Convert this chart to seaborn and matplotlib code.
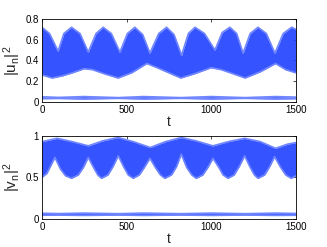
import numpy as np
import pandas as pd
import matplotlib
matplotlib.use("Agg")
import matplotlib.pyplot as plt
import seaborn as sns

# ---- data (envelopes of dense oscillations) ----
u_t_up = [0, 45, 96, 130, 175, 225, 274, 320, 362, 410, 461, 505, 549, 595, 638, 690,
          736, 780, 825, 865, 904, 960, 1022, 1065, 1110, 1150, 1188, 1230, 1276, 1325,
          1376, 1425, 1475, 1500]
u_upper = [0.72, 0.66, 0.49, 0.66, 0.72, 0.66, 0.48, 0.66, 0.72, 0.66, 0.48, 0.66, 0.72,
           0.65, 0.47, 0.66, 0.72, 0.65, 0.45, 0.66, 0.72, 0.66, 0.50, 0.67, 0.72, 0.66,
           0.47, 0.66, 0.72, 0.66, 0.47, 0.66, 0.72, 0.70]
u_t_lo = [0, 60, 120, 180, 250, 300, 370, 450, 530, 620, 680, 750, 820, 900, 1000, 1060,
          1130, 1200, 1290, 1380, 1440, 1500]
u_lower = [0.26, 0.23, 0.25, 0.28, 0.32, 0.31, 0.27, 0.23, 0.28, 0.37, 0.33, 0.28, 0.23,
           0.27, 0.33, 0.31, 0.27, 0.23, 0.29, 0.37, 0.31, 0.28]

small_t = [0, 100, 250, 450, 600, 820, 1000, 1200, 1380, 1500]
u_small_up = [0.048, 0.042, 0.050, 0.040, 0.050, 0.040, 0.050, 0.040, 0.050, 0.045]
u_small_lo = [0.030, 0.032, 0.027, 0.033, 0.027, 0.033, 0.027, 0.033, 0.027, 0.030]

v_t_up = [0, 90, 180, 274, 360, 450, 540, 640, 730, 823, 910, 1010, 1100, 1197, 1290,
          1380, 1450, 1500]
v_upper = [0.93, 0.97, 0.93, 0.88, 0.94, 0.98, 0.93, 0.86, 0.93, 0.98, 0.94, 0.88, 0.93,
           0.97, 0.93, 0.85, 0.90, 0.92]
v_t_lo = [0, 30, 77, 110, 140, 175, 215, 245, 274, 305, 330, 352, 390, 420, 451, 485, 510,
          539, 575, 605, 638, 670, 700, 726, 765, 795, 823, 855, 885, 911, 950, 980, 1010,
          1045, 1070, 1099, 1135, 1165, 1197, 1230, 1255, 1276, 1315, 1345, 1374, 1410,
          1440, 1472, 1500]
v_lower = [0.50, 0.55, 0.74, 0.60, 0.52, 0.49, 0.53, 0.62, 0.74, 0.62, 0.53, 0.49, 0.53,
           0.63, 0.76, 0.62, 0.53, 0.49, 0.53, 0.62, 0.73, 0.62, 0.53, 0.49, 0.53, 0.63,
           0.78, 0.62, 0.53, 0.49, 0.53, 0.62, 0.73, 0.62, 0.53, 0.49, 0.53, 0.63, 0.76,
           0.62, 0.53, 0.49, 0.53, 0.63, 0.75, 0.62, 0.53, 0.49, 0.52]
v_small_up = [0.070, 0.066, 0.072, 0.065, 0.072, 0.065, 0.072, 0.065, 0.072, 0.068]
v_small_lo = [0.046, 0.048, 0.044, 0.049, 0.044, 0.049, 0.044, 0.049, 0.044, 0.046]

x_ticks = [0, 500, 1000, 1500]
u_yticks = [0, 0.2, 0.4, 0.6, 0.8]
u_yticklabels = ["0", "0.2", "0.4", "0.6", "0.8"]
v_yticks = [0, 0.5, 1]
v_yticklabels = ["0", "0.5", "1"]

sns.set_style("white")
plt.rcParams["font.family"] = ["Liberation Sans", "DejaVu Sans"]
plt.rcParams["mathtext.default"] = "regular"

CORE = "#2444ff"
EDGE = "#7086ff"

fig = plt.figure(figsize=(3.27, 2.47), dpi=100)
ax1 = fig.add_axes([0.128, 0.588, 0.777, 0.335])
ax2 = fig.add_axes([0.128, 0.113, 0.777, 0.337])


def band(ax, t_up, up, t_lo, lo):
    grid = np.union1d(t_up, t_lo)
    uu = np.interp(grid, t_up, up)
    ll = np.interp(grid, t_lo, lo)
    ax.fill_between(grid, ll, uu, color=CORE, lw=0, alpha=0.92)
    sns.lineplot(x=t_up, y=up, ax=ax, color=EDGE, lw=1.2)
    sns.lineplot(x=t_lo, y=lo, ax=ax, color=EDGE, lw=1.2)


band(ax1, u_t_up, u_upper, u_t_lo, u_lower)
band(ax1, small_t, u_small_up, small_t, u_small_lo)
band(ax2, v_t_up, v_upper, v_t_lo, v_lower)
band(ax2, small_t, v_small_up, small_t, v_small_lo)

for ax, yt, ytl, ylim, lab in [(ax1, u_yticks, u_yticklabels, (0, 0.8), r"$|u_n|^2$"),
                                (ax2, v_yticks, v_yticklabels, (0, 1), r"$|v_n|^2$")]:
    ax.set_xlim(0, 1500)
    ax.set_ylim(*ylim)
    ax.set_xticks(x_ticks)
    ax.set_xticklabels([str(v) for v in x_ticks])
    ax.set_yticks(yt)
    ax.set_yticklabels(ytl)
    ax.tick_params(direction="in", length=2, width=0.5, labelsize=7, pad=2,
                   top=True, right=True, colors="black")
    for s in ax.spines.values():
        s.set_color("black")
        s.set_linewidth(0.6)
    ax.set_xlabel("t", fontsize=10, labelpad=0)
    ax.set_ylabel(lab, fontsize=11, labelpad=2)

fig.savefig("out.png", dpi=100)
